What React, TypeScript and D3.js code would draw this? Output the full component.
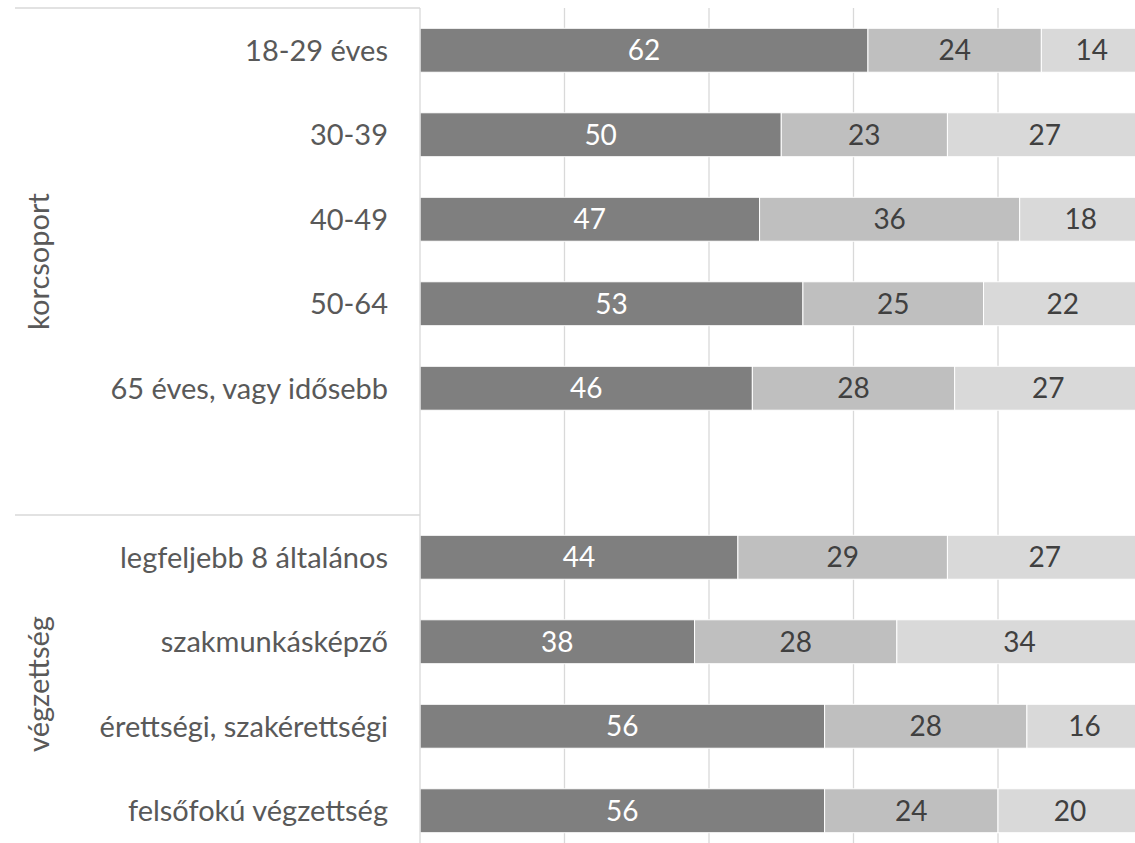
import React, { useEffect, useRef } from "react";
import * as d3 from "d3";

// categories top to bottom ("" = empty spacer slot)
const categories = [
  "18-29 éves",
  "30-39",
  "40-49",
  "50-64",
  "65 éves, vagy idősebb",
  "",
  "legfeljebb 8 általános",
  "szakmunkásképző",
  "érettségi, szakérettségi",
  "felsőfokú végzettség",
];
const groups = [
  { name: "korcsoport", from: 0, to: 5 },
  { name: "végzettség", from: 6, to: 9 },
];
const series1 = [62, 50, 47, 53, 46, null, 44, 38, 56, 56];
const series2 = [24, 23, 36, 25, 28, null, 29, 28, 28, 24];
const series3 = [14, 27, 18, 22, 27, null, 27, 34, 16, 20];
const xTicks = [0, 20, 40, 60, 80, 100];

const colors = ["#7f7f7f", "#bfbfbf", "#d9d9d9"];
const labelColors = ["#ffffff", "#404040", "#404040"];
const font = "Lato, 'Open Sans', sans-serif";

const App: React.FC = () => {
  const svgRef = useRef<SVGSVGElement | null>(null);

  useEffect(() => {
    if (!svgRef.current) return;
    const svg = d3.select(svgRef.current);
    svg.selectAll("*").remove();

    const width = 1135;
    const height = 843;
    const left = 420;

    const x = d3.scaleLinear().domain([0, 100]).range([left, 1142.5]);
    const y = d3
      .scaleBand<number>()
      .domain(d3.range(categories.length))
      .range([8, 853])
      .paddingInner(0.48)
      .paddingOuter(0.24);

    // gridlines
    svg
      .append("g")
      .selectAll("line")
      .data(xTicks.slice(1))
      .enter()
      .append("line")
      .attr("x1", (d) => x(d))
      .attr("x2", (d) => x(d))
      .attr("y1", 8)
      .attr("y2", height)
      .attr("stroke", "#d9d9d9")
      .attr("stroke-width", 1.3);

    // stacked bars
    const allSeries = [series1, series2, series3];
    categories.forEach((_, i) => {
      if (series1[i] == null) return;
      let acc = 0;
      allSeries.forEach((s, k) => {
        const v = s[i] as number;
        const x0 = x(acc);
        const x1 = x(acc + v);
        svg
          .append("rect")
          .attr("x", x0)
          .attr("y", y(i)!)
          .attr("width", x1 - x0)
          .attr("height", y.bandwidth())
          .attr("fill", colors[k])
          .attr("stroke", "#ffffff")
          .attr("stroke-width", 1);
        svg
          .append("text")
          .attr("x", (x0 + Math.min(x1, width + 7)) / 2)
          .attr("y", y(i)! + y.bandwidth() / 2)
          .attr("dy", "0.36em")
          .attr("text-anchor", "middle")
          .attr("font-family", font)
          .attr("font-size", 28)
          .attr("fill", labelColors[k])
          .text(v);
        acc += v;
      });
    });

    // category axis labels
    svg
      .append("g")
      .selectAll("text")
      .data(categories)
      .enter()
      .append("text")
      .attr("x", 388)
      .attr("y", (_, i) => y(i)! + y.bandwidth() / 2)
      .attr("dy", "0.36em")
      .attr("text-anchor", "end")
      .attr("font-family", font)
      .attr("font-size", 29)
      .attr("fill", "#595959")
      .text((d) => d);

    // axis line
    svg
      .append("line")
      .attr("x1", left)
      .attr("x2", left)
      .attr("y1", 8)
      .attr("y2", height)
      .attr("stroke", "#d9d9d9")
      .attr("stroke-width", 1.3);

    // group separators and labels
    const step = y.step();
    groups.forEach((g) => {
      const top = y(g.from)! - (step - y.bandwidth()) / 2;
      const bottom = y(g.to)! + y.bandwidth() + (step - y.bandwidth()) / 2;
      svg
        .append("line")
        .attr("x1", 15)
        .attr("x2", left)
        .attr("y1", top)
        .attr("y2", top)
        .attr("stroke", "#d9d9d9")
        .attr("stroke-width", 1.3);
      const cy = (top + Math.min(bottom, 853)) / 2;
      svg
        .append("text")
        .attr("transform", `translate(39,${cy}) rotate(-90)`)
        .attr("dy", "0.36em")
        .attr("text-anchor", "middle")
        .attr("font-family", font)
        .attr("font-size", 29)
        .attr("fill", "#595959")
        .text(g.name);
    });
  }, []);

  return (
    <div style={{ position: "absolute", left: 0, top: 0, width: 1135, height: 843, overflow: "hidden", background: "#fff" }}>
      <svg ref={svgRef} width={1135} height={843}></svg>
    </div>
  );
};

export default App;
